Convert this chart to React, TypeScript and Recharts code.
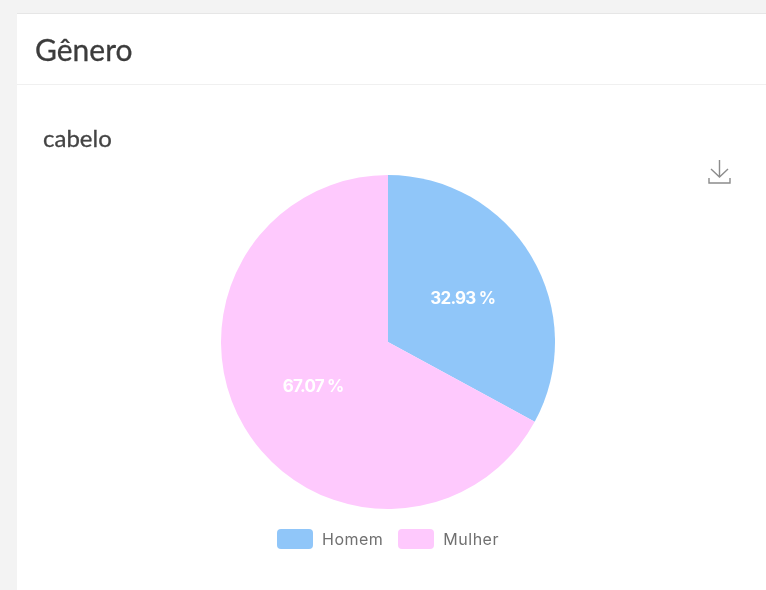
import React from 'react';
import { PieChart, Pie, Cell, Legend } from 'recharts';

const categories = ['Homem', 'Mulher'];
const shares = [32.93, 67.07];
const colors = ['#90c6f9', '#fec9fd'];

const data = categories.map((name, i) => ({ name, value: shares[i] }));

const RADIAN = Math.PI / 180;

const renderLabel = ({ cx, cy, midAngle, value }: any) => {
    const x = cx + 87 * Math.cos(-midAngle * RADIAN);
    const y = cy + 87 * Math.sin(-midAngle * RADIAN);
    return (
        <text
            x={x}
            y={y}
            fill="#ffffff"
            textAnchor="middle"
            dominantBaseline="central"
            style={{ fontFamily: 'Inter, sans-serif', fontSize: 17, fontWeight: 700, letterSpacing: -0.8 }}
        >
            {`${value.toFixed(2)} %`}
        </text>
    );
};

const renderLegend = () => (
    <div style={{ display: 'flex', alignItems: 'center', fontFamily: 'Inter, sans-serif', fontSize: 16, letterSpacing: 0.5, color: '#707070' }}>
        {categories.map((name, i) => (
            <div key={name} style={{ display: 'flex', alignItems: 'center', marginRight: i === 0 ? 15 : 0 }}>
                <div style={{ width: 36, height: 20, borderRadius: 4, background: colors[i], marginRight: 9 }} />
                <span>{name}</span>
            </div>
        ))}
    </div>
);

export default function App() {
    return (
        <div style={{ position: 'fixed', inset: 0, width: 766, height: 590, background: '#f3f3f3', overflow: 'hidden', filter: 'blur(0.5px)' }}>
            <div style={{ position: 'absolute', left: 17, top: 13, width: 749, height: 577, background: '#ffffff', borderTop: '1px solid #e6e6e6', boxSizing: 'border-box' }} />
            <div style={{ position: 'absolute', left: 17, top: 84, width: 749, height: 1, background: '#f0f0f0' }} />
            <div style={{ position: 'absolute', left: 35, top: 31, fontFamily: 'Lato, sans-serif', fontSize: 30, color: '#3c3c3c', lineHeight: '36px', WebkitTextStroke: '0.3px #3c3c3c' }}>Gênero</div>
            <div style={{ position: 'absolute', left: 43, top: 123, fontFamily: 'Lato, sans-serif', fontSize: 24, color: '#444444', lineHeight: '30px', WebkitTextStroke: '0.3px #444444' }}>cabelo</div>
            <svg style={{ position: 'absolute', left: 708, top: 160 }} width="24" height="24" viewBox="0 0 24 24" fill="none" stroke="#8c8c8c" strokeWidth="1.4">
                <path d="M11.5 0 V17 M3 9 L11.5 17 L20 9" />
                <path d="M1 18 V23 H22 V18" />
            </svg>
            <div style={{ position: 'absolute', left: 0, top: 0 }}>
                <PieChart width={766} height={590} margin={{ top: 0, right: 0, bottom: 0, left: 0 }}>
                    <Pie
                        data={data}
                        dataKey="value"
                        nameKey="name"
                        cx={388}
                        cy={342}
                        outerRadius={167}
                        startAngle={90}
                        endAngle={-270}
                        stroke="none"
                        label={renderLabel}
                        labelLine={false}
                        isAnimationActive={false}
                    >
                        {data.map((d, i) => (
                            <Cell key={d.name} fill={colors[i]} />
                        ))}
                    </Pie>
                    <Legend content={renderLegend} wrapperStyle={{ left: 277, top: 529, width: 260, bottom: 'auto' }} />
                </PieChart>
            </div>
        </div>
    );
}
